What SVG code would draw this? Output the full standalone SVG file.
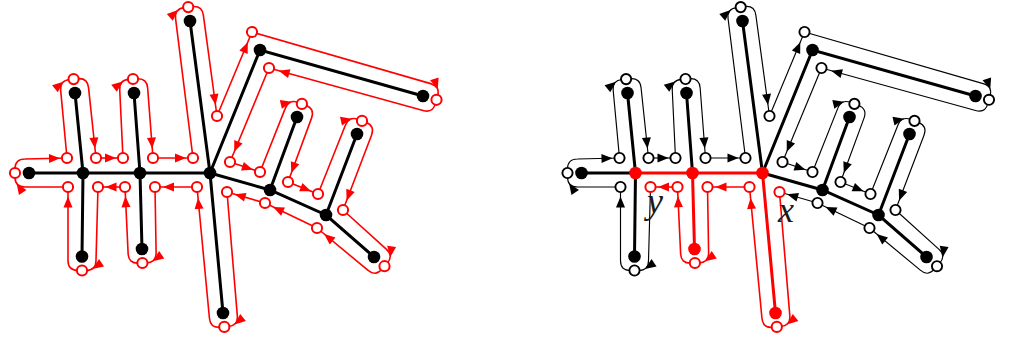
<svg xmlns="http://www.w3.org/2000/svg" xmlns:xlink="http://www.w3.org/1999/xlink" width="1010" height="343" viewBox="0 0 1010 343">
<style>
.e{stroke:#000;stroke-width:3;fill:none;stroke-linecap:round}
.er{stroke:#f00;stroke-width:3;fill:none;stroke-linecap:round}
.n{fill:#000}
.nr{fill:#f00}
.tr{fill:none;stroke:currentColor}
.ah{fill:currentColor;stroke:none}
.cr{color:#f00;stroke-width:1.6}
.ck{color:#000;stroke-width:1.15}
.h{fill:#fff;stroke:#f00;stroke-width:2}
.hk{fill:#fff;stroke:#000;stroke-width:1.9}
.lbl{font-family:"Liberation Serif",serif;font-style:italic;font-size:36px;fill:#1a1a1a}
</style>
<defs>
<path id="ah" d="M0,0 L-11,-4.5 L-11,4.5 Z"/>
<g id="s1"><path class="tr" d="M15,173 L15,169 Q15,159 25,159 L67,158"/><use href="#ah" class="ah" transform="translate(60,158.2) rotate(-1.4)"/></g>
<g id="s2"><path class="tr" d="M67,158 L60.68,90.41 Q59.68,80.46 69.63,79.47 L73.61,79.07"/><use href="#ah" class="ah" transform="translate(63.42,81.69) rotate(-39.4)"/></g>
<g id="s3"><path class="tr" d="M73.61,79.07 L77.59,78.68 Q87.54,77.68 88.54,87.63 L96,158"/><use href="#ah" class="ah" transform="translate(95,148.55) rotate(84)"/></g>
<g id="s4"><path class="tr" d="M96,158 L123,158"/><use href="#ah" class="ah" transform="translate(116,158)"/></g>
<g id="s5"><path class="tr" d="M123,158 L119.74,90.06 Q118.99,80.09 128.96,79.34 L132.95,79.04"/><use href="#ah" class="ah" transform="translate(122.7,81.42) rotate(-38)"/></g>
<g id="s6"><path class="tr" d="M132.95,79.04 L136.94,78.74 Q146.91,77.99 147.66,87.96 L153,158"/><use href="#ah" class="ah" transform="translate(152.28,148.53) rotate(85.6)"/></g>
<g id="s7"><path class="tr" d="M153,158 L193,158"/><use href="#ah" class="ah" transform="translate(186,158)"/></g>
<g id="s8"><path class="tr" d="M193,158 L175.59,18.87 Q174.28,8.96 184.19,7.65 L188.16,7.12"/><use href="#ah" class="ah" transform="translate(178.06,10.08) rotate(-41.2)"/></g>
<g id="s9"><path class="tr" d="M188.16,7.12 L192.13,6.59 Q202.04,5.28 203.35,15.19 L217,116"/><use href="#ah" class="ah" transform="translate(215.52,105.1) rotate(82.3)"/></g>
<g id="s10"><path class="tr" d="M217,116 L252,32"/><use href="#ah" class="ah" transform="translate(247.77,42.15) rotate(-67.4)"/></g>
<g id="s11"><path class="tr" d="M252,32 L430.65,83.61 Q440.27,86.33 437.55,95.95 L436.47,99.8"/><use href="#ah" class="ah" transform="translate(437.75,89.36) rotate(72)"/></g>
<g id="s12"><path class="tr" d="M436.47,99.8 L435.39,103.65 Q432.67,113.27 423.05,110.55 L269,68"/><use href="#ah" class="ah" transform="translate(278.64,70.66) rotate(195.4)"/></g>
<g id="s13"><path class="tr" d="M269,68 L230,162"/><use href="#ah" class="ah" transform="translate(234.21,151.84) rotate(112.5)"/></g>
<g id="s14"><path class="tr" d="M230,162 L260,172"/><use href="#ah" class="ah" transform="translate(252.88,169.63) rotate(18.4)"/></g>
<g id="s15"><path class="tr" d="M260,172 L285.26,108.39 Q288.73,99.01 298.11,102.48 L301.86,103.87"/><use href="#ah" class="ah" transform="translate(291.55,101.76) rotate(-13.4)"/></g>
<g id="s16"><path class="tr" d="M301.86,103.87 L305.61,105.26 Q314.99,108.73 311.52,118.11 L288,182"/><use href="#ah" class="ah" transform="translate(291.28,173.08) rotate(110.2)"/></g>
<g id="s17"><path class="tr" d="M288,182 L318,194"/><use href="#ah" class="ah" transform="translate(311.04,191.21) rotate(21.8)"/></g>
<g id="s18"><path class="tr" d="M318,194 L345.35,125.26 Q348.92,115.92 358.26,119.5 L362,120.92"/><use href="#ah" class="ah" transform="translate(351.71,118.7) rotate(-12.7)"/></g>
<g id="s19"><path class="tr" d="M362,120.92 L365.74,122.35 Q375.08,125.92 371.51,135.26 L343,210"/><use href="#ah" class="ah" transform="translate(346.56,200.66) rotate(110.9)"/></g>
<g id="s20"><path class="tr" d="M343,210 L386.24,249.1 Q393.76,255.68 387.18,263.21 L384.54,266.22"/><use href="#ah" class="ah" transform="translate(390.19,257.34) rotate(97.5)"/></g>
<g id="s21"><path class="tr" d="M384.54,266.22 L381.9,269.24 Q375.32,276.76 367.8,270.18 L317,228"/><use href="#ah" class="ah" transform="translate(324.16,233.94) rotate(219.7)"/></g>
<g id="s22"><path class="tr" d="M317,228 L265,203"/><use href="#ah" class="ah" transform="translate(273.11,206.9) rotate(205.7)"/></g>
<g id="s23"><path class="tr" d="M265,203 L227,192"/><use href="#ah" class="ah" transform="translate(234.68,194.22) rotate(196.1)"/></g>
<g id="s24"><path class="tr" d="M227,192 L237.32,315.68 Q238.24,325.64 228.28,326.57 L224.3,326.94"/><use href="#ah" class="ah" transform="translate(234.51,324.38) rotate(141)"/></g>
<g id="s25"><path class="tr" d="M224.3,326.94 L220.32,327.32 Q210.36,328.24 209.44,318.28 L197,187"/><use href="#ah" class="ah" transform="translate(198.04,197.95) rotate(-95.4)"/></g>
<g id="s26"><path class="tr" d="M197,187 L155,187"/><use href="#ah" class="ah" transform="translate(163,187) rotate(180)"/></g>
<g id="s27"><path class="tr" d="M155,187 L156.11,252.63 Q156.37,262.63 146.37,262.89 L142.37,263"/><use href="#ah" class="ah" transform="translate(152.73,261.13) rotate(144.8)"/></g>
<g id="s28"><path class="tr" d="M142.37,263 L138.37,263.1 Q128.37,263.37 128.11,253.37 L125,187"/><use href="#ah" class="ah" transform="translate(125.44,196.29) rotate(-92.7)"/></g>
<g id="s29"><path class="tr" d="M125,187 L98,187"/><use href="#ah" class="ah" transform="translate(105.5,187) rotate(180)"/></g>
<g id="s30"><path class="tr" d="M98,187 L96,260.5 Q96,270.5 86,270.5 L82,270.5"/><use href="#ah" class="ah" transform="translate(92.4,268.9) rotate(146.3)"/></g>
<g id="s31"><path class="tr" d="M82,270.5 L78,270.5 Q68,270.5 68,260.5 L68,187"/><use href="#ah" class="ah" transform="translate(68,196.5) rotate(-90)"/></g>
<g id="s32"><path class="tr" d="M68,187 L25,187 Q15,187 15,177 L15,173"/><use href="#ah" class="ah" transform="translate(16.6,183.4) rotate(236.3)"/></g>
</defs>

<!-- LEFT DIAGRAM -->
<g id="left">
<g id="left-edges">
<path class="e" d="M29,173 L210,173 M83,173 L75,93 M83,173 L82,256.5 M140,173 L134,93 M140,173 L142,249 M210,173 L190,21 M210,173 L223,313 M210,173 L260,50 L423,96 M210,173 L270,190 L326,215 L374,257 M270,190 L297,117 M326,215 L357,134"/>
</g>
<g id="left-tour" class="cr">
<use href="#s1"/><use href="#s2"/><use href="#s3"/><use href="#s4"/><use href="#s5"/><use href="#s6"/><use href="#s7"/><use href="#s8"/>
<use href="#s9"/><use href="#s10"/><use href="#s11"/><use href="#s12"/><use href="#s13"/><use href="#s14"/><use href="#s15"/><use href="#s16"/>
<use href="#s17"/><use href="#s18"/><use href="#s19"/><use href="#s20"/><use href="#s21"/><use href="#s22"/><use href="#s23"/><use href="#s24"/>
<use href="#s25"/><use href="#s26"/><use href="#s27"/><use href="#s28"/><use href="#s29"/><use href="#s30"/><use href="#s31"/><use href="#s32"/>
</g>
<g id="l-n1"><circle class="n" cx="29" cy="173" r="6.3"/></g>
<g id="l-nA"><circle class="n" cx="83" cy="173" r="6.3"/></g>
<g id="l-nA1"><circle class="n" cx="75" cy="93" r="6.3"/></g>
<g id="l-nA2"><circle class="n" cx="82" cy="256.5" r="6.3"/></g>
<g id="l-nB"><circle class="n" cx="140" cy="173" r="6.3"/></g>
<g id="l-nB1"><circle class="n" cx="134" cy="93" r="6.3"/></g>
<g id="l-nB2"><circle class="n" cx="142" cy="249" r="6.3"/></g>
<g id="l-nC"><circle class="n" cx="210" cy="173" r="6.3"/></g>
<g id="l-nC1"><circle class="n" cx="190" cy="21" r="6.3"/></g>
<g id="l-nC2"><circle class="n" cx="223" cy="313" r="6.3"/></g>
<g id="l-nD"><circle class="n" cx="260" cy="50" r="6.3"/></g>
<g id="l-nD1"><circle class="n" cx="423" cy="96" r="6.3"/></g>
<g id="l-nE"><circle class="n" cx="270" cy="190" r="6.3"/></g>
<g id="l-nE1"><circle class="n" cx="297" cy="117" r="6.3"/></g>
<g id="l-nF"><circle class="n" cx="326" cy="215" r="6.3"/></g>
<g id="l-nF1"><circle class="n" cx="357" cy="134" r="6.3"/></g>
<g id="l-nF2"><circle class="n" cx="374" cy="257" r="6.3"/></g>
<g id="l-c1"><circle class="h" cx="15" cy="173" r="5.1"/></g>
<g id="l-c2"><circle class="h" cx="67" cy="158" r="5.1"/></g>
<g id="l-c3"><circle class="h" cx="73.6" cy="79.1" r="5.1"/></g>
<g id="l-c4"><circle class="h" cx="96" cy="158" r="5.1"/></g>
<g id="l-c5"><circle class="h" cx="123" cy="158" r="5.1"/></g>
<g id="l-c6"><circle class="h" cx="133" cy="79" r="5.1"/></g>
<g id="l-c7"><circle class="h" cx="153" cy="158" r="5.1"/></g>
<g id="l-c8"><circle class="h" cx="193" cy="158" r="5.1"/></g>
<g id="l-c9"><circle class="h" cx="188.2" cy="7.1" r="5.1"/></g>
<g id="l-c10"><circle class="h" cx="217" cy="116" r="5.1"/></g>
<g id="l-c11"><circle class="h" cx="252" cy="32" r="5.1"/></g>
<g id="l-c12"><circle class="h" cx="436.5" cy="99.8" r="5.1"/></g>
<g id="l-c13"><circle class="h" cx="269" cy="68" r="5.1"/></g>
<g id="l-c14"><circle class="h" cx="230" cy="162" r="5.1"/></g>
<g id="l-c15"><circle class="h" cx="260" cy="172" r="5.1"/></g>
<g id="l-c16"><circle class="h" cx="301.9" cy="103.9" r="5.1"/></g>
<g id="l-c17"><circle class="h" cx="288" cy="182" r="5.1"/></g>
<g id="l-c18"><circle class="h" cx="318" cy="194" r="5.1"/></g>
<g id="l-c19"><circle class="h" cx="362" cy="120.9" r="5.1"/></g>
<g id="l-c20"><circle class="h" cx="343" cy="210" r="5.1"/></g>
<g id="l-c21"><circle class="h" cx="384.5" cy="266.2" r="5.1"/></g>
<g id="l-c22"><circle class="h" cx="317" cy="228" r="5.1"/></g>
<g id="l-c23"><circle class="h" cx="265" cy="203" r="5.1"/></g>
<g id="l-c24"><circle class="h" cx="227" cy="192" r="5.1"/></g>
<g id="l-c25"><circle class="h" cx="224.3" cy="326.9" r="5.1"/></g>
<g id="l-c26"><circle class="h" cx="197" cy="187" r="5.1"/></g>
<g id="l-c27"><circle class="h" cx="155" cy="187" r="5.1"/></g>
<g id="l-c28"><circle class="h" cx="142.4" cy="263" r="5.1"/></g>
<g id="l-c29"><circle class="h" cx="125" cy="187" r="5.1"/></g>
<g id="l-c30"><circle class="h" cx="98" cy="187" r="5.1"/></g>
<g id="l-c31"><circle class="h" cx="82" cy="270.5" r="5.1"/></g>
<g id="l-c32"><circle class="h" cx="68" cy="187" r="5.1"/></g>
</g>

<!-- RIGHT DIAGRAM -->
<g id="right" transform="translate(552.5,0)">
<g id="right-edges">
<path class="e" d="M29,173 L83,173 M83,173 L75,93 M83,173 L82,256.5 M140,173 L134,93 M210,173 L190,21 M210,173 L260,50 L423,96 M210,173 L270,190 L326,215 L374,257 M270,190 L297,117 M326,215 L357,134"/>
<path class="er" d="M83,173 L210,173 M140,173 L142,249 M210,173 L223,313"/>
</g>
<g id="right-tour">
<g class="ck">
<use href="#s1"/><use href="#s2"/><use href="#s3"/><use href="#s4"/><use href="#s5"/><use href="#s6"/><use href="#s7"/><use href="#s8"/>
<use href="#s9"/><use href="#s10"/><use href="#s11"/><use href="#s12"/><use href="#s13"/><use href="#s14"/><use href="#s15"/><use href="#s16"/>
<use href="#s17"/><use href="#s18"/><use href="#s19"/><use href="#s20"/><use href="#s21"/><use href="#s22"/><use href="#s23"/>
<use href="#s30"/><use href="#s31"/><use href="#s32"/>
</g>
<g class="cr">
<use href="#s24"/><use href="#s25"/><use href="#s26"/><use href="#s27"/><use href="#s28"/><use href="#s29"/>
</g>
</g>
<g id="r-n1"><circle class="n" cx="29" cy="173" r="6.3"/></g>
<g id="r-nA"><circle class="nr" cx="83" cy="173" r="6.3"/></g>
<g id="r-nA1"><circle class="n" cx="75" cy="93" r="6.3"/></g>
<g id="r-nA2"><circle class="n" cx="82" cy="256.5" r="6.3"/></g>
<g id="r-nB"><circle class="nr" cx="140" cy="173" r="6.3"/></g>
<g id="r-nB1"><circle class="n" cx="134" cy="93" r="6.3"/></g>
<g id="r-nB2"><circle class="nr" cx="142" cy="249" r="6.3"/></g>
<g id="r-nC"><circle class="nr" cx="210" cy="173" r="6.3"/></g>
<g id="r-nC1"><circle class="n" cx="190" cy="21" r="6.3"/></g>
<g id="r-nC2"><circle class="nr" cx="223" cy="313" r="6.3"/></g>
<g id="r-nD"><circle class="n" cx="260" cy="50" r="6.3"/></g>
<g id="r-nD1"><circle class="n" cx="423" cy="96" r="6.3"/></g>
<g id="r-nE"><circle class="n" cx="270" cy="190" r="6.3"/></g>
<g id="r-nE1"><circle class="n" cx="297" cy="117" r="6.3"/></g>
<g id="r-nF"><circle class="n" cx="326" cy="215" r="6.3"/></g>
<g id="r-nF1"><circle class="n" cx="357" cy="134" r="6.3"/></g>
<g id="r-nF2"><circle class="n" cx="374" cy="257" r="6.3"/></g>
<g id="r-c1"><circle class="hk" cx="15" cy="173" r="5.1"/></g>
<g id="r-c2"><circle class="hk" cx="67" cy="158" r="5.1"/></g>
<g id="r-c3"><circle class="hk" cx="73.6" cy="79.1" r="5.1"/></g>
<g id="r-c4"><circle class="hk" cx="96" cy="158" r="5.1"/></g>
<g id="r-c5"><circle class="hk" cx="123" cy="158" r="5.1"/></g>
<g id="r-c6"><circle class="hk" cx="133" cy="79" r="5.1"/></g>
<g id="r-c7"><circle class="hk" cx="153" cy="158" r="5.1"/></g>
<g id="r-c8"><circle class="hk" cx="193" cy="158" r="5.1"/></g>
<g id="r-c9"><circle class="hk" cx="188.2" cy="7.1" r="5.1"/></g>
<g id="r-c10"><circle class="hk" cx="217" cy="116" r="5.1"/></g>
<g id="r-c11"><circle class="hk" cx="252" cy="32" r="5.1"/></g>
<g id="r-c12"><circle class="hk" cx="436.5" cy="99.8" r="5.1"/></g>
<g id="r-c13"><circle class="hk" cx="269" cy="68" r="5.1"/></g>
<g id="r-c14"><circle class="hk" cx="230" cy="162" r="5.1"/></g>
<g id="r-c15"><circle class="hk" cx="260" cy="172" r="5.1"/></g>
<g id="r-c16"><circle class="hk" cx="301.9" cy="103.9" r="5.1"/></g>
<g id="r-c17"><circle class="hk" cx="288" cy="182" r="5.1"/></g>
<g id="r-c18"><circle class="hk" cx="318" cy="194" r="5.1"/></g>
<g id="r-c19"><circle class="hk" cx="362" cy="120.9" r="5.1"/></g>
<g id="r-c20"><circle class="hk" cx="343" cy="210" r="5.1"/></g>
<g id="r-c21"><circle class="hk" cx="384.5" cy="266.2" r="5.1"/></g>
<g id="r-c22"><circle class="hk" cx="317" cy="228" r="5.1"/></g>
<g id="r-c23"><circle class="hk" cx="265" cy="203" r="5.1"/></g>
<g id="r-c24"><circle class="h" cx="227" cy="192" r="5.1"/></g>
<g id="r-c25"><circle class="h" cx="224.3" cy="326.9" r="5.1"/></g>
<g id="r-c26"><circle class="h" cx="197" cy="187" r="5.1"/></g>
<g id="r-c27"><circle class="h" cx="155" cy="187" r="5.1"/></g>
<g id="r-c28"><circle class="h" cx="142.4" cy="263" r="5.1"/></g>
<g id="r-c29"><circle class="h" cx="125" cy="187" r="5.1"/></g>
<g id="r-c30"><circle class="h" cx="98" cy="187" r="5.1"/></g>
<g id="r-c31"><circle class="hk" cx="82" cy="270.5" r="5.1"/></g>
<g id="r-c32"><circle class="hk" cx="68" cy="187" r="5.1"/></g>
</g>
<g id="labels">
<text class="lbl" x="647" y="213">y</text>
<text class="lbl" x="778" y="222">x</text>
</g>
</svg>
